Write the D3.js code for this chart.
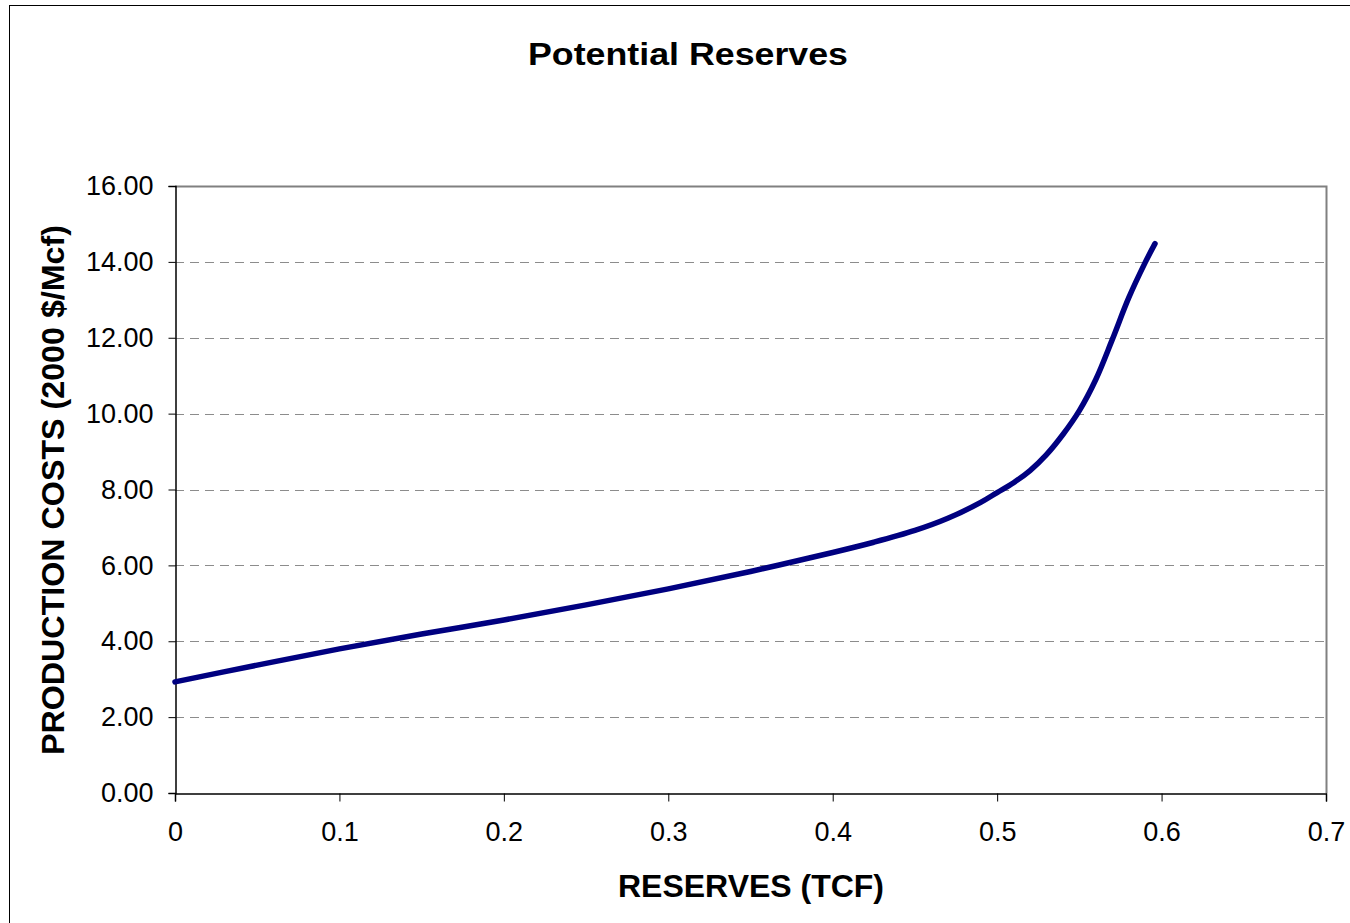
<!DOCTYPE html>
<html><head><meta charset="utf-8">
<script src="https://cdn.jsdelivr.net/npm/d3@7"></script>
<style>
html,body{margin:0;padding:0;background:#fff;}
svg{display:block;font-family:"Liberation Sans",Arial,sans-serif;}
</style></head>
<body>
<svg id="chart" width="1350" height="923"></svg>
<script>
// Data
const reserves = [0, 0.05, 0.1, 0.15, 0.2, 0.25, 0.3, 0.35, 0.4, 0.425, 0.45, 0.47, 0.49, 0.5, 0.51, 0.52, 0.53, 0.54, 0.55, 0.56, 0.57, 0.58, 0.59, 0.596];
const costs    = [2.93, 3.37, 3.80, 4.19, 4.56, 4.96, 5.38, 5.84, 6.34, 6.61, 6.92, 7.24, 7.66, 7.92, 8.18, 8.50, 8.92, 9.45, 10.08, 10.90, 11.95, 13.05, 13.98, 14.48];
const xTicks = [0, 0.1, 0.2, 0.3, 0.4, 0.5, 0.6, 0.7];
const yTicks = [0, 2, 4, 6, 8, 10, 12, 14, 16];
const titleText = "Potential Reserves";
const xTitle = "RESERVES (TCF)";
const yTitle = "PRODUCTION COSTS (2000 $/Mcf)";

const svg = d3.select("#chart");
const L = 175, R = 1326, T = 186, B = 793;

const x = d3.scaleLinear().domain([0, 0.7]).range([L, R]);
const y = d3.scaleLinear().domain([0, 16]).range([B, T]);

// outer frame
svg.append("rect").attr("x", 9.5).attr("y", 5.5).attr("width", 1345).attr("height", 930)
  .attr("fill", "none").attr("stroke", "#000").attr("stroke-width", 1);

// title
svg.append("text").attr("x", 688).attr("y", 65).attr("text-anchor", "middle")
  .attr("font-size", 32).attr("font-weight", "bold")
  .attr("textLength", 320).attr("lengthAdjust", "spacingAndGlyphs").text(titleText);

// gridlines
svg.append("g").selectAll("line").data(yTicks.filter(d => d > 0 && d < 16)).join("line")
  .attr("x1", L).attr("x2", R).attr("y1", d => Math.round(y(d)) + 0.5).attr("y2", d => Math.round(y(d)) + 0.5)
  .attr("stroke", "#8c8c8c").attr("stroke-width", 1).attr("stroke-dasharray", "9,6");

// plot border top/right
svg.append("path").attr("d", `M${L},${T + 0.5}H${R + 0.5}V${B}`)
  .attr("fill", "none").attr("stroke", "#808080").attr("stroke-width", 2);

// axes
const yAxis = d3.axisLeft(y).tickValues(yTicks).tickFormat(d3.format(".2f")).tickSize(7).tickPadding(15);
const gy = svg.append("g").attr("transform", `translate(${L + 0.5},0)`).call(yAxis);
gy.select(".domain").attr("stroke", "#000").attr("stroke-width", 1.5);
gy.selectAll(".tick line").attr("stroke", "#000");
gy.selectAll(".tick text").attr("font-size", 27).attr("font-family", "Liberation Sans, Arial, sans-serif").attr("fill", "#000");

const xAxis = d3.axisBottom(x).tickValues(xTicks).tickFormat(d => d === 0 ? "0" : d3.format(".1f")(d)).tickSize(8).tickPadding(20);
const gx = svg.append("g").attr("transform", `translate(0,${B + 0.5})`).call(xAxis);
gx.select(".domain").attr("stroke", "#000").attr("stroke-width", 1.5);
gx.selectAll(".tick line").attr("stroke", "#000");
gx.selectAll(".tick text").attr("font-size", 27).attr("font-family", "Liberation Sans, Arial, sans-serif").attr("fill", "#000");

// axis titles
svg.append("text").attr("x", 751).attr("y", 897).attr("text-anchor", "middle")
  .attr("font-size", 32).attr("font-weight", "bold")
  .attr("textLength", 266).attr("lengthAdjust", "spacingAndGlyphs").text(xTitle);
svg.append("text").attr("transform", `translate(64,490) rotate(-90)`).attr("text-anchor", "middle")
  .attr("font-size", 32).attr("font-weight", "bold")
  .attr("textLength", 530).attr("lengthAdjust", "spacingAndGlyphs").text(yTitle);

// line
const pts = reserves.map((r, i) => [r, costs[i]]);
const line = d3.line().x(d => x(d[0])).y(d => y(d[1])).curve(d3.curveCatmullRom.alpha(0.5));
svg.append("path").datum(pts).attr("d", line)
  .attr("fill", "none").attr("stroke", "#000080").attr("stroke-width", 5.5)
  .attr("stroke-linecap", "round").attr("stroke-linejoin", "round");
</script>
</body></html>
